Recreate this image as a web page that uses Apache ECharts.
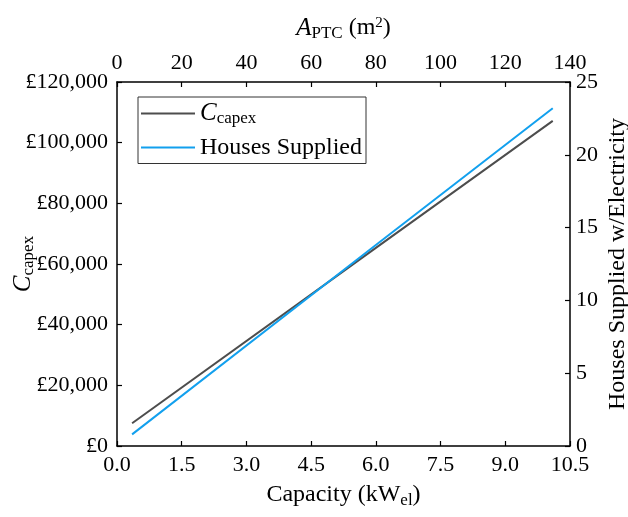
<!DOCTYPE html>
<html>
<head>
<meta charset="utf-8">
<script src="https://cdn.jsdelivr.net/npm/echarts@6/dist/echarts.min.js"></script>
<style>html,body{margin:0;padding:0;background:#fff}#c{width:628px;height:517px}</style>
</head>
<body>
<div id="c"></div>
<script>
// Data
const capacityKW = [0.35, 6.0, 10.1];
const capexGBP = [7500, 65300, 107200];
const housesSupplied = [0.8, 13.8, 23.2];
const bottomTicks = { min: 0, max: 10.5, interval: 1.5 };
const topTicks = { min: 0, max: 140, interval: 20 };
const leftTicks = { min: 0, max: 120000, interval: 20000 };
const rightTicks = { min: 0, max: 25, interval: 5 };

const FONT = 'Liberation Serif';
const GRAY = '#4d4d4d';
const BLUE = '#12a0ee';
const axisCommon = {
  nameMoveOverlap: false,
  axisLine: { show: true, onZero: false, lineStyle: { color: '#000', width: 1.5 } },
  axisTick: { show: true, inside: true, length: 5, lineStyle: { color: '#000', width: 1.2 } },
  splitLine: { show: false },
  axisLabel: { color: '#000', fontFamily: FONT, fontSize: 22 },
  nameTextStyle: { color: '#000', fontFamily: FONT, fontSize: 24 }
};
const subRich = {
  it: { fontFamily: FONT, fontStyle: 'italic', fontSize: 25, color: '#000' },
  n: { fontFamily: FONT, fontSize: 24, color: '#000' },
  sub: { fontFamily: FONT, fontSize: 17, color: '#000', padding: [11, 0, 0, 0] },
  sup: { fontFamily: FONT, fontSize: 15, color: '#000', padding: [0, 0, 10, 0] }
};

const chart = echarts.init(document.getElementById('c'), null, { renderer: 'canvas' });
chart.setOption({
  animation: false,
  backgroundColor: '#fff',
  grid: { left: 117, right: 58, top: 82, bottom: 71, containLabel: false, outerBoundsMode: 'none' },
  legend: {
    left: 138, top: 97,
    orient: 'vertical',
    padding: [4, 4, 4, 3],
    itemGap: 8,
    itemWidth: 54, itemHeight: 2,
    borderColor: '#333', borderWidth: 1,
    textStyle: { fontFamily: FONT, fontSize: 24, color: '#000', rich: subRich },
    formatter: function (n) { return n === 'capex' ? '{it|C}{sub|capex}' : '{n|' + n + '}'; },
    data: [
      { name: 'capex', icon: 'rect' },
      { name: 'Houses Supplied', icon: 'rect' }
    ]
  },
  xAxis: [
    Object.assign({}, axisCommon, {
      type: 'value', position: 'bottom',
      min: bottomTicks.min, max: bottomTicks.max, interval: bottomTicks.interval,
      axisLabel: Object.assign({}, axisCommon.axisLabel, { margin: 8, formatter: v => v.toFixed(1) }),
      name: '{n|Capacity (kW}{sub|el}{n|)}', nameLocation: 'middle', nameGap: 35,
      nameTextStyle: Object.assign({}, axisCommon.nameTextStyle, { rich: subRich })
    }),
    Object.assign({}, axisCommon, {
      type: 'value', position: 'top',
      min: topTicks.min, max: topTicks.max, interval: topTicks.interval,
      axisLabel: Object.assign({}, axisCommon.axisLabel, { margin: 8 }),
      name: '{it|A}{sub|PTC}{n| (m}{sup|2}{n|)}', nameLocation: 'middle', nameGap: 40,
      nameTextStyle: Object.assign({}, axisCommon.nameTextStyle, { rich: subRich })
    })
  ],
  yAxis: [
    Object.assign({}, axisCommon, {
      type: 'value', position: 'left',
      min: leftTicks.min, max: leftTicks.max, interval: leftTicks.interval,
      axisLabel: Object.assign({}, axisCommon.axisLabel, { margin: 9, formatter: v => '£' + v.toLocaleString('en-GB') }),
      name: '{it|C}{sub|capex}', nameLocation: 'middle', nameGap: 80, nameRotate: 90,
      nameTextStyle: Object.assign({}, axisCommon.nameTextStyle, { rich: subRich })
    }),
    Object.assign({}, axisCommon, {
      type: 'value', position: 'right',
      min: rightTicks.min, max: rightTicks.max, interval: rightTicks.interval,
      axisLabel: Object.assign({}, axisCommon.axisLabel, { margin: 6 }),
      name: 'Houses Supplied w/Electricity', nameLocation: 'middle', nameGap: 36, nameRotate: 90
    })
  ],
  series: [
    {
      name: 'capex', type: 'line', xAxisIndex: 0, yAxisIndex: 0,
      data: capacityKW.map((x, i) => [x, capexGBP[i]]),
      showSymbol: false, symbol: 'none',
      lineStyle: { color: GRAY, width: 2 }, itemStyle: { color: GRAY }
    },
    {
      name: 'Houses Supplied', type: 'line', xAxisIndex: 0, yAxisIndex: 1,
      data: capacityKW.map((x, i) => [x, housesSupplied[i]]),
      showSymbol: false, symbol: 'none',
      lineStyle: { color: BLUE, width: 2 }, itemStyle: { color: BLUE }
    }
  ]
});
</script>
</body>
</html>
